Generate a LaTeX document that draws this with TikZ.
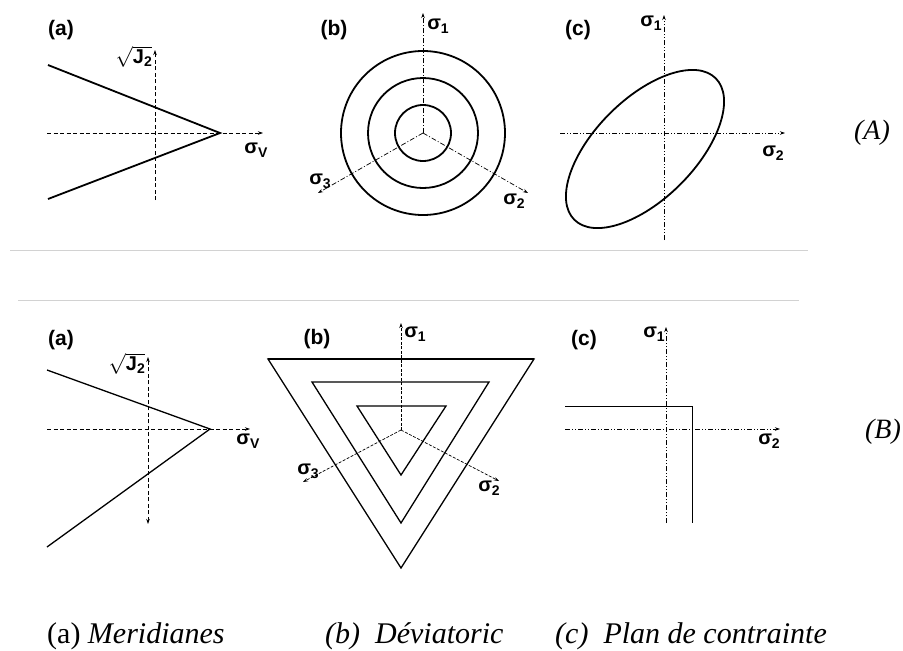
\documentclass[tikz,border=0pt]{standalone}
\usepackage{fontspec}
\setmainfont{Liberation Serif}
\newfontfamily\lblfont{Liberation Sans}
\usetikzlibrary{arrows.meta,positioning}
\newcommand{\sgm}[1]{σ\raisebox{-0.35ex}{\fontsize{14}{14}\selectfont #1}}

\tikzset{
    axisdash/.style={line width=0.7pt, dash pattern=on 4pt off 2.5pt},
    axisfine/.style={line width=0.7pt, dash pattern=on 3pt off 1.5pt},
    axisdot/.style={line width=0.7pt, dash pattern=on 5pt off 2pt on 1pt off 2pt},
    axisdotdot/.style={line width=0.7pt, dash pattern=on 5pt off 2pt on 1pt off 2pt on 1pt off 2pt},
    axarrow/.style={-{Stealth[length=5pt,width=3.5pt]}},
    curve/.style={line width=1.8pt},
    thincurve/.style={line width=1.3pt},
    hairline/.style={line width=1pt},
    panel/.style={font=\lblfont\bfseries\fontsize{21}{21}\selectfont, inner sep=0pt},
    axlabel/.style={font=\lblfont\bfseries\fontsize{20}{20}\selectfont, inner sep=0pt},
    rowlabel/.style={font=\itshape\fontsize{28}{28}\selectfont, inner sep=0pt},
    caption/.style={font=\fontsize{30}{30}\selectfont, anchor=base west, inner sep=0pt},
    sepline/.style={gray!35, line width=0.8pt}
}

\begin{document}
\begin{tikzpicture}[x=1pt, y=-1pt]
    \useasboundingbox (0,0) rectangle (903,651);

    % row A, panel (a)
    \coordinate (a1l) at (47,133);
    \coordinate (a1r) at (263,133);
    \coordinate (a1t) at (155,50);
    \coordinate (a1b) at (155,200);
    \coordinate (a1p) at (220,133);
    \coordinate (a1u) at (48,65);
    \coordinate (a1d) at (48,199);
    \draw[axisdash, axarrow] (a1l) -- (a1r);
    \draw[axisdash, axarrow] (a1b) -- (a1t);
    \draw[curve] (a1u) -- (a1p) -- (a1d);
    \node[panel] (a1lab) at (61,30) {(a)};
    \node[axlabel] (a1y) at (134,57) {$\sqrt{\hbox{\lblfont\bfseries J\textsubscript{2}}}$};
    \node[axlabel] (a1x) at (256,150) {\sgm{V}};

    % row A, panel (b)
    \coordinate (b1o) at (423,133);
    \coordinate (b1t) at (423,13);
    \coordinate (b1s3) at (318,193);
    \coordinate (b1s2) at (528,193);
    \draw[axisdot, axarrow] (b1o) -- (b1t);
    \draw[axisdot, axarrow] (b1o) -- (b1s3);
    \draw[axisdot, axarrow] (b1o) -- (b1s2);
    \foreach \r in {28,55,82}
        \draw[curve] (b1o) circle (\r);
    \node[panel] (b1lab) at (334,30) {(b)};
    \node[axlabel] (b1y) at (438,26) {\sgm{1}};
    \node[axlabel] (b1s3lab) at (320,181) {\sgm{3}};
    \node[axlabel] (b1s2lab) at (514,201) {\sgm{2}};

    % row A, panel (c)
    \coordinate (c1l) at (560,133);
    \coordinate (c1r) at (785,133);
    \coordinate (c1b) at (664,240);
    \coordinate (c1t) at (664,15);
    \coordinate (c1e) at (645,149);
    \draw[axisdotdot, axarrow] (c1l) -- (c1r);
    \draw[axisdotdot, axarrow] (c1b) -- (c1t);
    \draw[curve, rotate around={45:(c1e)}] (c1e) ellipse (100 and 50);
    \node[panel] (c1lab) at (578,30) {(c)};
    \node[axlabel] (c1y) at (651,23) {\sgm{1}};
    \node[axlabel] (c1x) at (773,153) {\sgm{2}};
    \node[rowlabel] (rowA) at (872,133) {(A)};

    % separators
    \draw[sepline] (10,250) -- (808,250);
    \draw[sepline] (18,300) -- (799,300);

    % row B, panel (a)
    \coordinate (a2l) at (47,429);
    \coordinate (a2r) at (250,429);
    \coordinate (a2t) at (148,357);
    \coordinate (a2b) at (148,524);
    \coordinate (a2p) at (210,429);
    \coordinate (a2u) at (47,370);
    \coordinate (a2d) at (47,547);
    \draw[axisdash, axarrow] (a2l) -- (a2r);
    \draw[axisdash, {Stealth[length=5pt,width=3.5pt]}-{Stealth[length=5pt,width=3.5pt]}] (a2b) -- (a2t);
    \draw[thincurve] (a2u) -- (a2p) -- (a2d);
    \node[panel] (a2lab) at (61,340) {(a)};
    \node[axlabel] (a2y) at (127,364) {$\sqrt{\hbox{\lblfont\bfseries J\textsubscript{2}}}$};
    \node[axlabel] (a2x) at (248,441) {\sgm{V}};

    % row B, panel (b)
    \coordinate (b2o) at (401,430);
    \coordinate (b2t) at (401,323);
    \coordinate (b2s3) at (303,482);
    \coordinate (b2s2) at (499,481);
    \draw[axisfine, axarrow] (b2o) -- (b2t);
    \draw[axisfine, axarrow] (b2o) -- (b2s3);
    \draw[axisfine, axarrow] (b2o) -- (b2s2);
    \draw[thincurve] (268,359) -- (534,359) -- (401,568) -- cycle;
    \draw[curve] (268,359) -- (534,359);
    \draw[thincurve] (312,382) -- (489,382) -- (401,523) -- cycle;
    \draw[thincurve] (357,406) -- (446,406) -- (401,475) -- cycle;
    \node[panel] (b2lab) at (317,339) {(b)};
    \node[axlabel] (b2y) at (415,334) {\sgm{1}};
    \node[axlabel] (b2s3lab) at (308,471) {\sgm{3}};
    \node[axlabel] (b2s2lab) at (489,488) {\sgm{2}};

    % row B, panel (c)
    \coordinate (c2l) at (565,429);
    \coordinate (c2r) at (780,429);
    \coordinate (c2b) at (666,523);
    \coordinate (c2t) at (666,327);
    \coordinate (c2u) at (565,406);
    \coordinate (c2k) at (692,406);
    \coordinate (c2d) at (692,523);
    \draw[axisdotdot, axarrow] (c2l) -- (c2r);
    \draw[axisdotdot, axarrow] (c2b) -- (c2t);
    \draw[hairline] (c2u) -- (c2k) -- (c2d);
    \node[panel] (c2lab) at (584,340) {(c)};
    \node[axlabel] (c2y) at (654,334) {\sgm{1}};
    \node[axlabel] (c2x) at (769,441) {\sgm{2}};
    \node[rowlabel] (rowB) at (883,432) {(B)};

    % captions
    \node[caption] (capa) at (47,643) {(a) \textit{Meridianes}};
    \node[caption] (capb) at (325,643) {\textit{(b)\ \ Déviatoric}};
    \node[caption] (capc) at (555,643) {\textit{(c)\ \ Plan de contrainte}};
\end{tikzpicture}
\end{document}
